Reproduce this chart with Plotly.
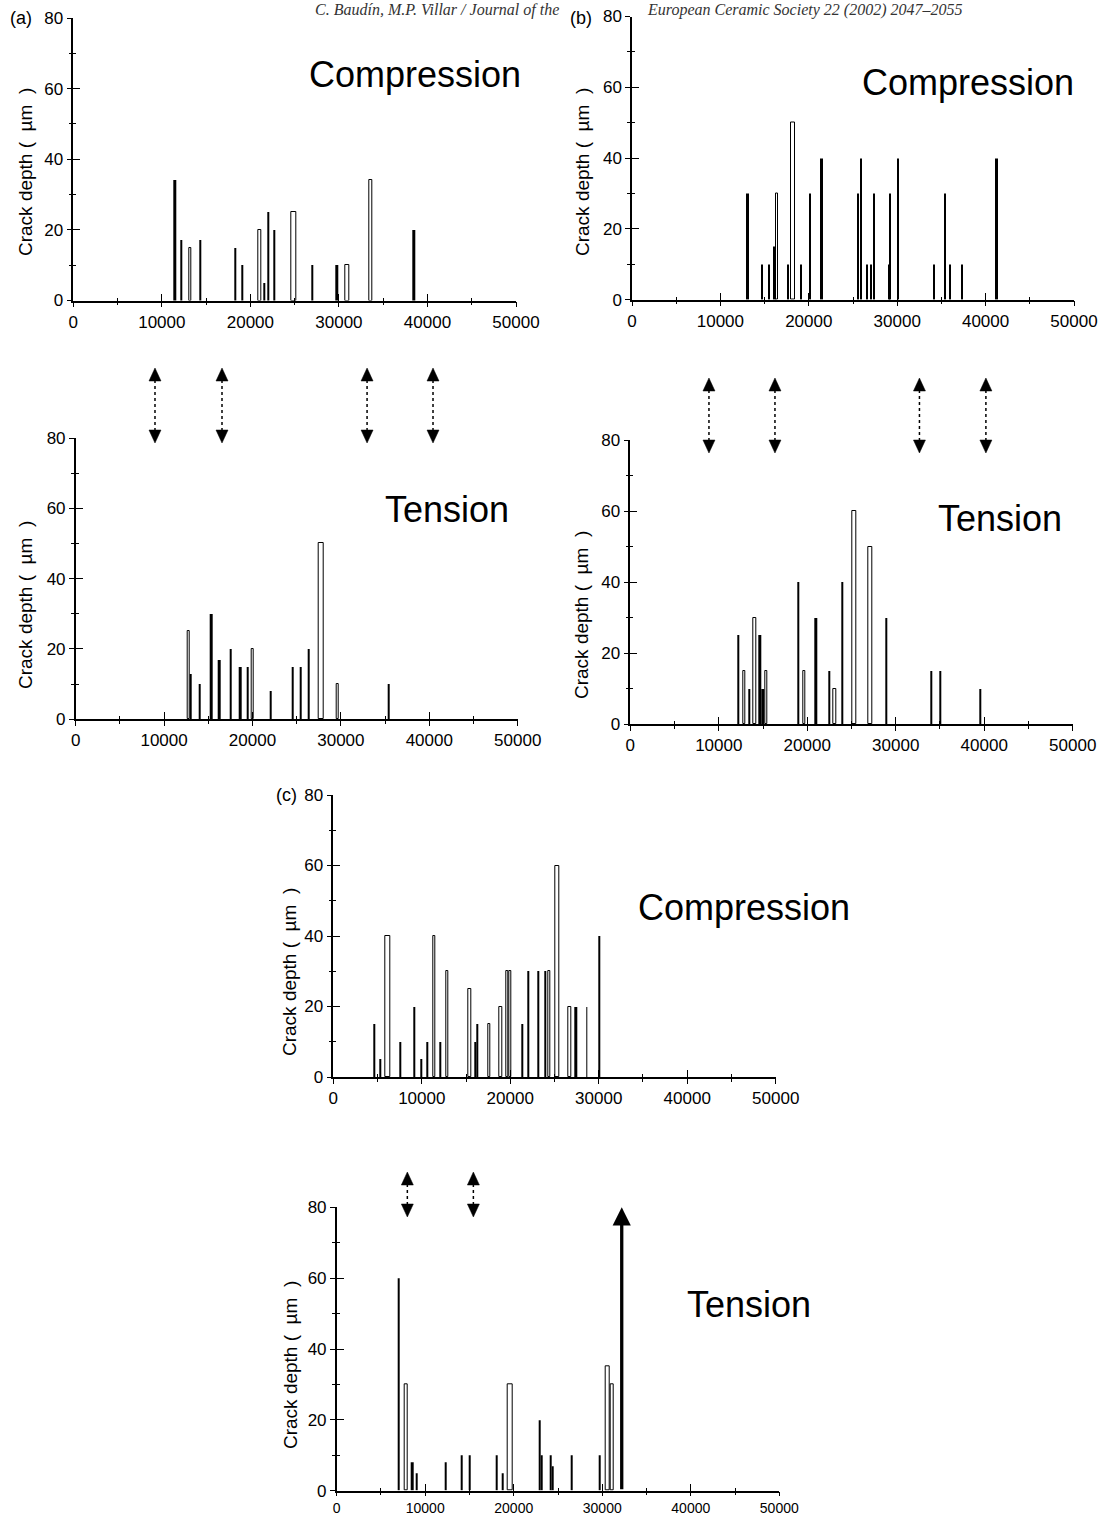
import plotly.graph_objects as go

W, H = 1101, 1520

# ---------------- data (crack position, crack depth in µm) ----------------
a_comp_x = [11500, 12200, 13250, 14350, 18300, 19050, 21050, 21550, 22050, 22700,
            24950, 27000, 29800, 30950, 33600, 38500]
a_comp_depth = [34, 17, 15, 17, 15, 10, 20, 5, 25, 20, 25, 10, 10, 10, 34, 20]

a_tens_x = [12800, 13050, 14050, 15350, 16250, 17550, 18650, 19450, 20000, 22050,
            24550, 25450, 26350, 27750, 29650, 35450]
a_tens_depth = [25, 13, 10, 30, 17, 20, 15, 15, 20, 8, 15, 15, 20, 50, 10, 10]

b_comp_x = [13100, 14750, 15550, 16150, 16450, 17700, 18200, 19100, 20150, 21450,
            25600, 25950, 26550, 27000, 27400, 29050, 29250, 30100, 34150, 35450,
            35950, 37300, 41250]
b_comp_depth = [30, 10, 10, 15, 30, 10, 50, 10, 30, 40, 30, 40, 10, 10, 30, 10, 30,
                40, 10, 30, 10, 10, 40]

b_tens_x = [12200, 12900, 13400, 14050, 14650, 15000, 15350, 19050, 19650, 21000,
            22450, 23100, 23950, 25350, 27150, 28950, 34050, 35050, 39550]
b_tens_depth = [25, 15, 10, 30, 25, 10, 15, 40, 15, 30, 15, 10, 40, 60, 50, 30, 15,
                15, 10]

c_comp_x = [4700, 5350, 6200, 7600, 9150, 10000, 10650, 11450, 12050, 12900, 15400,
            16100, 16250, 17600, 18900, 19650, 20050, 21400, 22050, 23150, 24000,
            24400, 25300, 26750, 27450, 28650, 30100]
c_comp_depth = [15, 5, 40, 10, 20, 5, 10, 40, 10, 30, 25, 10, 15, 15, 20, 30, 30, 15,
                30, 30, 30, 30, 60, 20, 20, 20, 40]

c_tens_x = [7050, 7850, 8550, 9050, 12350, 14100, 15000, 18050, 18750, 19600, 23000,
            23150, 24200, 24450, 26600, 29700, 30600, 31150]
c_tens_depth = [60, 30, 8, 5, 8, 10, 10, 10, 5, 30, 20, 10, 10, 7, 10, 10, 35, 30]

# crack deeper than the axis (drawn as an arrow)
c_tens_offscale_x = [32200]
c_tens_offscale_depth = [80]

# positions marked by the dotted double arrows between the plots
a_arrow_x = [8970, 16550, 32960, 40420]
b_arrow_x = [8890, 16350, 32680, 40190]
c_arrow_x = [7980, 15440]

x_ticks = [0, 10000, 20000, 30000, 40000, 50000]
y_ticks = [0, 20, 40, 60, 80]

header_left = "C. Baud\u00edn, M.P. Villar / Journal of the"
header_right = "European Ceramic Society 22 (2002) 2047\u20132055"

# ---------------- styles (bar widths in axis units) ----------------
a_comp_w = [200, 110, 226, 110, 110, 110, 300, 110, 200, 110, 560, 200, 200, 400, 300, 200]
a_tens_w = [226, 200, 110, 200, 200, 200, 200, 200, 226, 110, 200, 110, 200, 530, 226, 200]
b_comp_w = [200, 110, 110, 200, 226, 110, 450, 110, 200, 200, 200, 200, 110, 110, 200,
            110, 200, 200, 110, 200, 110, 110, 200]
b_tens_w = [200, 226, 110, 300, 200, 200, 226, 200, 226, 200, 110, 264, 200, 414, 490,
            200, 200, 200, 200]
c_comp_w = [200, 110, 560, 110, 200, 110, 110, 264, 110, 264, 340, 110, 110, 226, 300,
            264, 226, 110, 200, 110, 110, 226, 530, 380, 200, 110, 200]
c_tens_w = [200, 264, 200, 110, 110, 110, 110, 110, 110, 530, 200, 110, 110, 110, 200,
            200, 380, 340]

FONT = "Arial, Liberation Sans, sans-serif"
SERIF = "Liberation Serif, Times New Roman, serif"

# panel boxes in pixels: (left, right, y of 0, y of 80)
panels = [
    dict(x=a_comp_x, y=a_comp_depth, w=a_comp_w, box=(73.3, 516.0, 300.5, 18.0),
         word="Compression", word_c=(414.5, 75), title_c=(25, 172), tag="(a)", tag_c=(21, 18),
         xfont=17),
    dict(x=a_tens_x, y=a_tens_depth, w=a_tens_w, box=(75.7, 517.7, 719.3, 438.0),
         word="Tension", word_c=(447, 509), title_c=(25, 605), xfont=17),
    dict(x=b_comp_x, y=b_comp_depth, w=b_comp_w, box=(632.0, 1074.0, 299.7, 16.5),
         word="Compression", word_c=(967.5, 83), title_c=(582, 172), tag="(b)", tag_c=(581, 18),
         xfont=17),
    dict(x=b_tens_x, y=b_tens_depth, w=b_tens_w, box=(630.3, 1072.7, 724.0, 440.0),
         word="Tension", word_c=(1000, 518), title_c=(582, 615), xfont=17),
    dict(x=c_comp_x, y=c_comp_depth, w=c_comp_w, box=(333.3, 775.7, 1077.0, 795.0),
         word="Compression", word_c=(743.5, 907), title_c=(289, 972), tag="(c)", tag_c=(286, 795),
         xfont=17),
    dict(x=c_tens_x, y=c_tens_depth, w=c_tens_w, box=(336.7, 779.3, 1490.7, 1207.3),
         word="Tension", word_c=(748.5, 1304), title_c=(290, 1365), xfont=14),
]


def fx(px):
    return px / W


def fy(py):
    return 1 - py / H


fig = go.Figure()
annotations = []
shapes = []
layout = dict(width=W, height=H, margin=dict(l=0, r=0, t=0, b=0, pad=0, autoexpand=False),
              paper_bgcolor="white", plot_bgcolor="rgba(0,0,0,0)",
              showlegend=False, barmode="overlay", bargap=0,
              font=dict(family=FONT, color="black"))

n = len(panels)
for i, p in enumerate(panels, start=1):
    x0, x1, y0, y1 = p["box"]
    xs = "" if i == 1 else str(i)
    ov = str(i + n)
    colors = ["white" if w >= 220 else "black" for w in p["w"]]
    lws = [1.0 if w >= 220 else 0 for w in p["w"]]
    fig.add_trace(go.Bar(x=p["x"], y=p["y"], width=p["w"],
                         marker=dict(color=colors, line=dict(color="black", width=lws)),
                         xaxis="x" + xs, yaxis="y" + xs, hoverinfo="x+y"))
    # empty trace to create overlay axes (inner half of crossing ticks)
    fig.add_trace(go.Scatter(x=[], y=[], xaxis="x" + ov, yaxis="y" + ov,
                             hoverinfo="skip"))
    dom_x = [fx(x0), fx(x1)]
    dom_y = [fy(y0), fy(y1)]
    common = dict(showgrid=False, zeroline=False, fixedrange=True, automargin=False,
                  tickwidth=1.2, tickcolor="black")
    layout["xaxis" + xs] = dict(domain=dom_x, anchor="y" + xs, range=[0, 50000],
                                tickmode="array", tickvals=x_ticks,
                                ticktext=[str(v) for v in x_ticks],
                                ticks="outside", ticklen=5 if p["xfont"] > 15 else 4,
                                minor=dict(dtick=5000, tick0=0, ticks="outside", ticklen=3,
                                           tickwidth=1.2, tickcolor="black"),
                                showline=True, linecolor="black", linewidth=1.5,
                                tickfont=dict(size=p["xfont"], family=FONT, color="black"),
                                **common)
    layout["yaxis" + xs] = dict(domain=dom_y, anchor="x" + xs, range=[0, 80],
                                tickmode="array", tickvals=y_ticks,
                                ticks="outside", ticklen=5,
                                minor=dict(dtick=10, tick0=0, ticks="outside", ticklen=3,
                                           tickwidth=1.2, tickcolor="black"),
                                showline=True, linecolor="black", linewidth=1.5,
                                tickfont=dict(size=17, family=FONT, color="black"), **common)
    layout["xaxis" + ov] = dict(overlaying="x" + xs, anchor="y" + ov, range=[0, 50000],
                                tickmode="array", tickvals=x_ticks,
                                ticks="inside", ticklen=7,
                                minor=dict(dtick=5000, tick0=0, ticks="inside", ticklen=3,
                                           tickwidth=1.2, tickcolor="black"),
                                showticklabels=False, showline=False, **common)
    layout["yaxis" + ov] = dict(overlaying="y" + xs, anchor="x" + ov, range=[0, 80],
                                tickmode="array", tickvals=y_ticks,
                                ticks="inside", ticklen=7,
                                minor=dict(dtick=10, tick0=0, ticks="inside", ticklen=3,
                                           tickwidth=1.2, tickcolor="black"),
                                showticklabels=False, showline=False, **common)
    # big word label
    annotations.append(dict(text=p["word"], x=fx(p["word_c"][0]), y=fy(p["word_c"][1]),
                            xref="paper", yref="paper", showarrow=False,
                            xanchor="center", yanchor="middle",
                            font=dict(size=36, family=FONT, color="black")))
    # y-axis title
    annotations.append(dict(text="Crack depth (  \u00b5m  )", textangle=-90,
                            x=fx(p["title_c"][0]), y=fy(p["title_c"][1]),
                            xref="paper", yref="paper", showarrow=False,
                            xanchor="center", yanchor="middle",
                            font=dict(size=19, family=FONT, color="black")))
    if "tag" in p:
        annotations.append(dict(text=p["tag"], x=fx(p["tag_c"][0]), y=fy(p["tag_c"][1]),
                                xref="paper", yref="paper", showarrow=False,
                                xanchor="center", yanchor="middle",
                                font=dict(size=18, family=FONT, color="black")))

# off-scale crack in panel (c) tension: thick arrow
for xv, dv in zip(c_tens_offscale_x, c_tens_offscale_depth):
    annotations.append(dict(x=xv, y=dv, ax=xv, ay=0, xref="x6", yref="y6",
                            axref="x6", ayref="y6", showarrow=True, text="",
                            arrowhead=2, arrowsize=1.1, arrowwidth=3.3,
                            arrowcolor="black", standoff=0, startstandoff=0))


# dotted double-headed arrows (x in the tension-axis units, y in paper)
def dbl_arrows(xvals, axis, top_px, bot_px):
    half = 6 * 50000 / 442.5
    for xv in xvals:
        shapes.append(dict(type="line", xref=axis, yref="paper", x0=xv, x1=xv,
                           y0=fy(top_px + 12), y1=fy(bot_px - 12),
                           line=dict(color="black", width=1.5, dash="dot")))
        up = "M {a},{b} L {c},{d} L {e},{d} Z".format(
            a=xv, b=fy(top_px), c=xv - half, d=fy(top_px + 13), e=xv + half)
        dn = "M {a},{b} L {c},{d} L {e},{d} Z".format(
            a=xv, b=fy(bot_px), c=xv - half, d=fy(bot_px - 13), e=xv + half)
        for path in (up, dn):
            shapes.append(dict(type="path", xref=axis, yref="paper", path=path,
                               fillcolor="black", line=dict(color="black", width=0.5)))


dbl_arrows(a_arrow_x, "x2", 368, 443)
dbl_arrows(b_arrow_x, "x4", 378, 453)
dbl_arrows(c_arrow_x, "x6", 1172, 1217)

# running header at the top edge (split around the "(b) 80" label)
annotations.append(dict(text="<i>" + header_left + "</i>", x=fx(560), y=1,
                        xref="paper", yref="paper", showarrow=False,
                        xanchor="right", yanchor="top", borderpad=0,
                        font=dict(size=16, family=SERIF, color="#333")))
annotations.append(dict(text="<i>" + header_right + "</i>", x=fx(646), y=1,
                        xref="paper", yref="paper", showarrow=False,
                        xanchor="left", yanchor="top", borderpad=0,
                        font=dict(size=16, family=SERIF, color="#333")))

layout["annotations"] = annotations
layout["shapes"] = shapes
fig.update_layout(**layout)
fig.write_html(
    "out.html",
    config={"displayModeBar": False},
    post_script="document.body.style.margin='0px';document.body.style.padding='0px';"
                "document.documentElement.style.overflow='hidden';",
)
